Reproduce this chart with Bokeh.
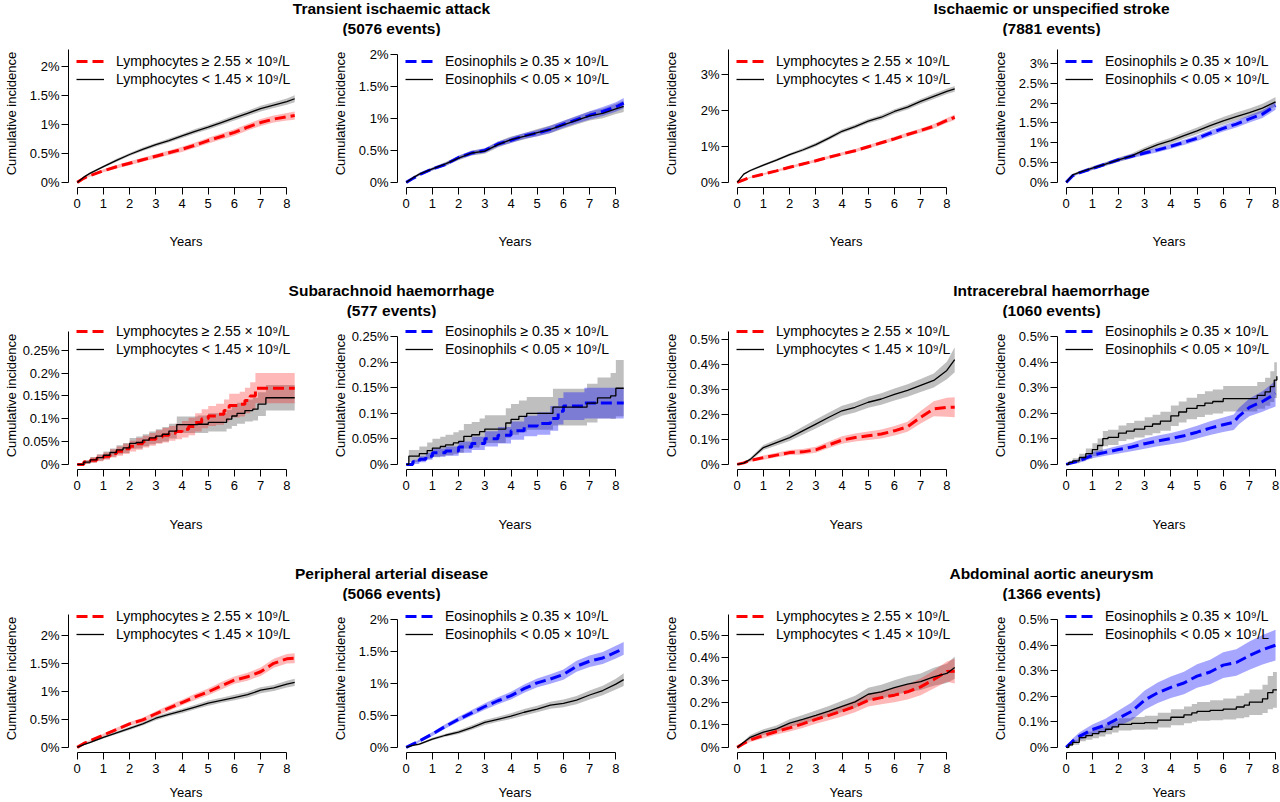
import numpy as np
from bokeh.plotting import figure
from bokeh.models import Range1d, FixedTicker, CustomJSTickFormatter, Legend, LegendItem
from bokeh.layouts import column, row
from bokeh.embed import file_html
from bokeh.resources import INLINE
from bokeh.core.properties import value

FONT = "Liberation Sans"

# ------------------------------------------------------------------ data
T_SMOOTH = [0, 0.25, 0.5, 1, 1.5, 2, 2.5, 3, 3.5, 4, 4.5, 5, 5.5, 6, 6.5, 7, 7.5, 8, 8.3]
T_SMOOTH_END8 = [0, 0.25, 0.5, 1, 1.5, 2, 2.5, 3, 3.5, 4, 4.5, 5, 5.5, 6, 6.5, 7, 7.5, 8]
YEAR_TICKS = [0, 1, 2, 3, 4, 5, 6, 7, 8]

outcome_titles = ["Transient ischaemic attack", "Ischaemic or unspecified stroke",
                  "Subarachnoid haemorrhage", "Intracerebral haemorrhage",
                  "Peripheral arterial disease", "Abdominal aortic aneurysm"]
outcome_events = ["(5076 events)", "(7881 events)", "(577 events)", "(1060 events)",
                  "(5066 events)", "(1366 events)"]

LYM_HIGH_LABEL = "Lymphocytes \u2265 2.55 \u00d7 10\u2079/L"
LYM_LOW_LABEL = "Lymphocytes < 1.45 \u00d7 10\u2079/L"
EOS_HIGH_LABEL = "Eosinophils \u2265 0.35 \u00d7 10\u2079/L"
EOS_LOW_LABEL = "Eosinophils < 0.05 \u00d7 10\u2079/L"

# Transient ischaemic attack
tia_lym_hi_est = [0, 0.07, 0.12, 0.20, 0.27, 0.33, 0.39, 0.45, 0.51, 0.57, 0.64, 0.72, 0.79, 0.86, 0.95, 1.03, 1.09, 1.13, 1.15]
tia_lym_hi_ci = [0, 0.012, 0.02, 0.025, 0.03, 0.035, 0.035, 0.04, 0.04, 0.045, 0.045, 0.05, 0.05, 0.055, 0.055, 0.06, 0.06, 0.065, 0.07]
tia_lym_lo_est = [0, 0.09, 0.16, 0.27, 0.38, 0.48, 0.57, 0.65, 0.72, 0.80, 0.88, 0.95, 1.03, 1.11, 1.19, 1.27, 1.33, 1.39, 1.44]
tia_lym_lo_ci = [0, 0.01, 0.015, 0.02, 0.025, 0.025, 0.03, 0.03, 0.035, 0.035, 0.04, 0.04, 0.04, 0.045, 0.045, 0.05, 0.05, 0.055, 0.06]
tia_eos_hi_est = [0, 0.06, 0.12, 0.21, 0.28, 0.39, 0.46, 0.50, 0.60, 0.66, 0.73, 0.77, 0.83, 0.91, 0.98, 1.05, 1.11, 1.18, 1.24]
tia_eos_hi_ci = [0, 0.012, 0.018, 0.022, 0.027, 0.03, 0.035, 0.035, 0.04, 0.045, 0.045, 0.05, 0.055, 0.055, 0.06, 0.065, 0.07, 0.075, 0.08]
tia_eos_lo_est = [0, 0.07, 0.13, 0.21, 0.29, 0.38, 0.46, 0.49, 0.59, 0.67, 0.72, 0.78, 0.83, 0.90, 0.97, 1.04, 1.08, 1.15, 1.19]
tia_eos_lo_ci = [0, 0.015, 0.02, 0.025, 0.03, 0.035, 0.04, 0.04, 0.045, 0.05, 0.05, 0.055, 0.06, 0.06, 0.065, 0.07, 0.075, 0.08, 0.09]

# Ischaemic or unspecified stroke
isch_lym_hi_est = [0, 0.07, 0.14, 0.23, 0.32, 0.42, 0.51, 0.60, 0.70, 0.79, 0.88, 0.99, 1.10, 1.21, 1.33, 1.44, 1.56, 1.72, 1.81]
isch_lym_hi_ci = [0, 0.015, 0.02, 0.025, 0.03, 0.035, 0.035, 0.04, 0.04, 0.045, 0.045, 0.05, 0.05, 0.055, 0.055, 0.06, 0.065, 0.07, 0.075]
isch_lym_lo_est = [0, 0.23, 0.33, 0.48, 0.62, 0.77, 0.90, 1.05, 1.23, 1.42, 1.55, 1.70, 1.81, 1.97, 2.09, 2.25, 2.39, 2.53, 2.60]
isch_lym_lo_ci = [0, 0.02, 0.025, 0.03, 0.035, 0.04, 0.045, 0.05, 0.05, 0.055, 0.055, 0.06, 0.06, 0.065, 0.065, 0.07, 0.07, 0.075, 0.08]
isch_eos_hi_est = [0, 0.17, 0.24, 0.35, 0.46, 0.57, 0.66, 0.74, 0.82, 0.91, 1.01, 1.11, 1.24, 1.36, 1.47, 1.60, 1.72, 1.93]
isch_eos_hi_ci = [0, 0.025, 0.03, 0.035, 0.04, 0.045, 0.05, 0.055, 0.06, 0.06, 0.065, 0.07, 0.075, 0.08, 0.085, 0.09, 0.095, 0.1]
isch_eos_lo_est = [0, 0.19, 0.25, 0.36, 0.46, 0.57, 0.67, 0.82, 0.95, 1.05, 1.18, 1.30, 1.43, 1.55, 1.66, 1.76, 1.87, 2.03]
isch_eos_lo_ci = [0, 0.03, 0.035, 0.045, 0.05, 0.055, 0.06, 0.065, 0.07, 0.075, 0.08, 0.085, 0.09, 0.095, 0.1, 0.105, 0.11, 0.12]

# Subarachnoid haemorrhage (step curves)
sah_lym_hi_t = [0, 0.25, 0.5, 0.75, 1.0, 1.25, 1.5, 1.75, 2.0, 2.25, 2.5, 2.75, 3.0, 3.25, 3.5, 3.75, 4.0, 4.25, 4.5, 4.75, 5.0, 5.3, 5.6, 5.8, 6.2, 6.4, 6.6, 6.8, 8.3]
sah_lym_hi_est = [0, 0.005, 0.009, 0.014, 0.018, 0.024, 0.029, 0.034, 0.040, 0.045, 0.050, 0.055, 0.060, 0.064, 0.068, 0.072, 0.077, 0.083, 0.092, 0.100, 0.106, 0.110, 0.118, 0.129, 0.132, 0.140, 0.150, 0.167, 0.167]
sah_lym_hi_ci = [0, 0.004, 0.006, 0.007, 0.008, 0.009, 0.010, 0.011, 0.012, 0.013, 0.013, 0.014, 0.015, 0.016, 0.016, 0.017, 0.018, 0.019, 0.020, 0.021, 0.022, 0.023, 0.024, 0.026, 0.027, 0.028, 0.030, 0.033, 0.033]
sah_lym_lo_t = [0, 0.25, 0.5, 0.75, 1.0, 1.25, 1.5, 1.75, 2.0, 2.25, 2.5, 2.75, 3.0, 3.25, 3.5, 3.8, 4.6, 5.0, 5.7, 5.9, 6.1, 6.4, 6.7, 6.9, 7.2, 8.3]
sah_lym_lo_est = [0, 0.005, 0.010, 0.015, 0.020, 0.026, 0.032, 0.036, 0.046, 0.048, 0.053, 0.058, 0.062, 0.066, 0.073, 0.087, 0.088, 0.092, 0.099, 0.106, 0.112, 0.118, 0.121, 0.132, 0.146, 0.146]
sah_lym_lo_ci = [0, 0.004, 0.006, 0.007, 0.008, 0.009, 0.010, 0.011, 0.012, 0.013, 0.013, 0.014, 0.015, 0.016, 0.016, 0.018, 0.019, 0.020, 0.021, 0.022, 0.023, 0.024, 0.025, 0.026, 0.028, 0.028]
sah_eos_hi_t = [0, 0.25, 0.5, 0.75, 1.0, 1.5, 2.0, 2.5, 3.0, 3.5, 4.0, 4.5, 5.0, 5.5, 5.8, 6.0, 6.8, 8.3]
sah_eos_hi_est = [0, 0.005, 0.010, 0.016, 0.023, 0.026, 0.034, 0.041, 0.050, 0.057, 0.066, 0.075, 0.080, 0.090, 0.104, 0.114, 0.120, 0.120]
sah_eos_hi_ci = [0, 0.004, 0.006, 0.007, 0.008, 0.009, 0.011, 0.013, 0.015, 0.016, 0.018, 0.020, 0.022, 0.024, 0.026, 0.027, 0.030, 0.032]
sah_eos_lo_t = [0, 0.1, 0.5, 0.8, 1.0, 1.3, 1.5, 1.8, 2.0, 2.2, 2.5, 2.8, 3.0, 3.8, 4.0, 4.3, 4.6, 5.6, 6.9, 7.3, 7.8, 8.0, 8.3]
sah_eos_lo_est = [0, 0.016, 0.021, 0.027, 0.032, 0.035, 0.038, 0.042, 0.045, 0.055, 0.058, 0.064, 0.069, 0.081, 0.088, 0.094, 0.100, 0.112, 0.120, 0.130, 0.134, 0.149, 0.149]
sah_eos_lo_ci = [0, 0.012, 0.014, 0.016, 0.018, 0.019, 0.020, 0.021, 0.022, 0.024, 0.025, 0.026, 0.027, 0.029, 0.030, 0.031, 0.032, 0.036, 0.038, 0.040, 0.045, 0.055, 0.055]

# Intracerebral haemorrhage
ich_lym_hi_est = [0, 0.006, 0.016, 0.027, 0.037, 0.047, 0.050, 0.058, 0.078, 0.097, 0.107, 0.114, 0.121, 0.134, 0.150, 0.188, 0.222, 0.228, 0.228]
ich_lym_hi_ci = [0, 0.003, 0.005, 0.008, 0.009, 0.010, 0.011, 0.012, 0.013, 0.015, 0.016, 0.017, 0.018, 0.019, 0.020, 0.025, 0.030, 0.038, 0.040]
ich_lym_lo_est = [0, 0.005, 0.020, 0.067, 0.087, 0.107, 0.134, 0.161, 0.188, 0.214, 0.228, 0.248, 0.261, 0.279, 0.295, 0.315, 0.335, 0.375, 0.418]
ich_lym_lo_ci = [0, 0.003, 0.006, 0.010, 0.012, 0.014, 0.016, 0.018, 0.019, 0.020, 0.021, 0.022, 0.023, 0.024, 0.025, 0.026, 0.028, 0.035, 0.050]
ich_eos_hi_t = [0, 0.5, 1, 1.5, 2, 2.5, 3, 3.5, 4, 4.5, 5, 5.5, 6, 6.4, 6.6, 7, 7.5, 8]
ich_eos_hi_est = [0, 0.014, 0.036, 0.047, 0.058, 0.068, 0.081, 0.092, 0.101, 0.112, 0.126, 0.142, 0.155, 0.165, 0.189, 0.223, 0.246, 0.277]
ich_eos_hi_ci = [0, 0.008, 0.012, 0.013, 0.015, 0.017, 0.020, 0.021, 0.022, 0.024, 0.025, 0.027, 0.028, 0.030, 0.032, 0.035, 0.040, 0.050]
ich_eos_lo_t = [0, 0.1, 0.25, 0.5, 0.75, 1.0, 1.2, 1.4, 1.6, 2.0, 2.3, 2.6, 3.0, 3.3, 3.6, 4.0, 4.3, 4.6, 5.0, 5.3, 5.6, 6.0, 7.3, 7.6, 7.8, 7.95, 8.05]
ich_eos_lo_est = [0, 0.008, 0.014, 0.027, 0.042, 0.058, 0.074, 0.101, 0.106, 0.122, 0.130, 0.138, 0.149, 0.158, 0.169, 0.190, 0.205, 0.219, 0.230, 0.240, 0.246, 0.257, 0.270, 0.284, 0.304, 0.330, 0.345]
ich_eos_lo_ci = [0, 0.006, 0.010, 0.015, 0.020, 0.025, 0.027, 0.030, 0.030, 0.030, 0.032, 0.033, 0.035, 0.036, 0.037, 0.040, 0.041, 0.042, 0.045, 0.046, 0.047, 0.050, 0.052, 0.055, 0.060, 0.070, 0.080]

# Peripheral arterial disease
pad_lym_hi_est = [0, 0.07, 0.12, 0.22, 0.32, 0.42, 0.49, 0.60, 0.70, 0.80, 0.90, 0.99, 1.10, 1.20, 1.26, 1.35, 1.50, 1.58, 1.59]
pad_lym_hi_ci = [0, 0.012, 0.018, 0.025, 0.03, 0.035, 0.04, 0.045, 0.05, 0.05, 0.055, 0.06, 0.065, 0.065, 0.07, 0.075, 0.08, 0.085, 0.09]
pad_lym_lo_est = [0, 0.05, 0.09, 0.18, 0.26, 0.34, 0.42, 0.52, 0.59, 0.65, 0.72, 0.79, 0.84, 0.89, 0.94, 1.02, 1.06, 1.13, 1.16]
pad_lym_lo_ci = [0, 0.01, 0.015, 0.02, 0.025, 0.03, 0.03, 0.035, 0.035, 0.04, 0.04, 0.045, 0.045, 0.05, 0.05, 0.055, 0.055, 0.06, 0.065]
pad_eos_hi_est = [0, 0.05, 0.10, 0.21, 0.33, 0.44, 0.54, 0.64, 0.73, 0.81, 0.92, 1.01, 1.07, 1.14, 1.27, 1.35, 1.40, 1.49, 1.55]
pad_eos_hi_ci = [0, 0.012, 0.02, 0.03, 0.035, 0.04, 0.045, 0.05, 0.055, 0.06, 0.065, 0.07, 0.075, 0.08, 0.085, 0.09, 0.095, 0.1, 0.1]
pad_eos_lo_est = [0, 0.03, 0.05, 0.13, 0.19, 0.24, 0.31, 0.39, 0.44, 0.49, 0.55, 0.60, 0.66, 0.69, 0.74, 0.82, 0.89, 0.99, 1.06]
pad_eos_lo_ci = [0, 0.01, 0.015, 0.02, 0.025, 0.03, 0.035, 0.04, 0.04, 0.045, 0.05, 0.05, 0.055, 0.06, 0.065, 0.07, 0.075, 0.085, 0.1]

# Abdominal aortic aneurysm
aaa_lym_hi_est = [0, 0.018, 0.033, 0.053, 0.071, 0.087, 0.105, 0.125, 0.143, 0.162, 0.183, 0.210, 0.222, 0.233, 0.248, 0.270, 0.303, 0.338, 0.340]
aaa_lym_hi_ci = [0, 0.006, 0.009, 0.012, 0.014, 0.016, 0.018, 0.020, 0.022, 0.024, 0.026, 0.028, 0.030, 0.032, 0.034, 0.037, 0.040, 0.045, 0.055]
aaa_lym_lo_est = [0, 0.023, 0.045, 0.068, 0.083, 0.108, 0.125, 0.143, 0.162, 0.183, 0.203, 0.237, 0.248, 0.267, 0.282, 0.293, 0.315, 0.330, 0.356]
aaa_lym_lo_ci = [0, 0.006, 0.010, 0.013, 0.015, 0.017, 0.019, 0.021, 0.023, 0.025, 0.027, 0.029, 0.031, 0.033, 0.035, 0.037, 0.040, 0.043, 0.050]
aaa_eos_hi_est = [0, 0.025, 0.043, 0.07, 0.087, 0.114, 0.141, 0.185, 0.214, 0.235, 0.252, 0.279, 0.295, 0.322, 0.332, 0.359, 0.382, 0.40]
aaa_eos_hi_ci = [0, 0.01, 0.015, 0.02, 0.025, 0.03, 0.035, 0.038, 0.04, 0.042, 0.044, 0.046, 0.048, 0.05, 0.052, 0.055, 0.058, 0.06]
aaa_eos_lo_t = [0, 0.1, 0.25, 0.5, 0.75, 1.0, 1.25, 1.5, 1.75, 2.0, 2.5, 3.0, 3.5, 4.0, 4.5, 4.8, 5.0, 5.5, 6.0, 6.5, 6.8, 7.0, 7.5, 7.7, 7.9, 8.05]
aaa_eos_lo_est = [0, 0.010, 0.020, 0.038, 0.046, 0.054, 0.062, 0.071, 0.080, 0.090, 0.094, 0.097, 0.107, 0.118, 0.127, 0.135, 0.141, 0.145, 0.150, 0.158, 0.165, 0.177, 0.190, 0.214, 0.225, 0.225]
aaa_eos_lo_ci = [0, 0.006, 0.010, 0.014, 0.016, 0.018, 0.019, 0.020, 0.022, 0.024, 0.025, 0.027, 0.029, 0.031, 0.033, 0.035, 0.037, 0.039, 0.041, 0.044, 0.047, 0.050, 0.055, 0.065, 0.070, 0.070]

# y-axis upper limits (in %) and tick values of each panel, row by row
panel_ylim = [2.2, 2.0, 3.55, 3.22,
              0.28, 0.25, 0.51, 0.50,
              2.28, 2.0, 0.57, 0.50]
ticks_pct_2 = [0, 0.5, 1, 1.5, 2]
ticks_pct_3 = [0, 1, 2, 3]
ticks_pct_3h = [0, 0.5, 1, 1.5, 2, 2.5, 3]
ticks_pct_025 = [0, 0.05, 0.1, 0.15, 0.2, 0.25]
ticks_pct_05 = [0, 0.1, 0.2, 0.3, 0.4, 0.5]
panel_yticks = [ticks_pct_2, ticks_pct_2, ticks_pct_3, ticks_pct_3h,
                ticks_pct_025, ticks_pct_025, ticks_pct_05, ticks_pct_05,
                ticks_pct_2, ticks_pct_2, ticks_pct_05, ticks_pct_05]
axis_to_top = [True, False, True, True,
               True, False, True, False,
               True, False, True, False]

# ------------------------------------------------------------------ style / geometry
RED, BLUE, BLACK = "#FF0000", "#0000FF", "#000000"
LAYOUT_W = 1280
STRIP_H = 36
COL_W = [329, 331, 329, LAYOUT_W - 329 - 331 - 329]
BORDER_L = 62
PX_PER_YEAR = 26.875
X_START = -0.332
FRAME_W = [241, 241, 241, COL_W[3] - BORDER_L]
REGION_H = 138          # height of R plot region (data range + 4% each side)
HEADROOM = 10
FRAME_H = REGION_H + HEADROOM
BORDER_T = 3
PANEL_H = [246, 247, 201]
LEGEND_TOP = [13, 1, 3]
XLABEL_STANDOFF = [23, 24, 9]

CHAR_W = {".": 278, "%": 889}


def tick_text(v):
    return ("%g" % v) + "%"


def text_w(s, size=13):
    return sum(CHAR_W.get(c, 556) for c in s) * size / 1000.0


def steps(t, v):
    t = np.asarray(t, float)
    v = np.asarray(v, float)
    return np.repeat(t, 2)[1:], np.repeat(v, 2)[:-1]


def series(t, est, ci, step):
    t = np.asarray(t, float)
    est = np.asarray(est, float)
    ci = np.asarray(ci, float)
    lo = np.clip(est - ci, 0, None)
    hi = est + ci
    if step:
        xs, ys = steps(t, est)
        _, ylo = steps(t, lo)
        _, yhi = steps(t, hi)
        return xs, ys, ylo, yhi
    return t, est, lo, hi


def make_strip(k):
    s = figure(width=LAYOUT_W, height=STRIP_H, x_range=Range1d(0, LAYOUT_W),
               y_range=Range1d(0, STRIP_H), x_axis_type=None, y_axis_type=None,
               output_backend="svg", toolbar_location=None, min_border=0,
               outline_line_color=None, title=None)
    s.xgrid.visible = False
    s.ygrid.visible = False
    centers = [BORDER_L + COL_W[0], BORDER_L + COL_W[0] + COL_W[1] + COL_W[2]]
    i1, i2 = 2 * k, 2 * k + 1
    s.text(x=centers + centers, y=[STRIP_H - 8, STRIP_H - 8, STRIP_H - 28, STRIP_H - 28],
           text=[outcome_titles[i1], outcome_titles[i2], outcome_events[i1], outcome_events[i2]],
           text_font=value(FONT), text_font_size=value("15.5px"), text_font_style=value("bold"),
           text_align="center", text_baseline="middle", text_color=BLACK)
    return s


def make_panel(idx, hi, lo, kind):
    rowi, col = divmod(idx, 4)
    Y = panel_ylim[idx]
    y_start = -0.04 * Y
    y_end = y_start + FRAME_H * 1.08 * Y / REGION_H
    x_end = X_START + FRAME_W[col] / PX_PER_YEAR
    ph = PANEL_H[rowi]
    p = figure(width=COL_W[col], height=ph,
               x_range=Range1d(X_START, x_end), y_range=Range1d(y_start, y_end),
               output_backend="svg", toolbar_location=None, title=None,
               min_border_left=BORDER_L, min_border_right=COL_W[col] - BORDER_L - FRAME_W[col],
               min_border_top=BORDER_T, min_border_bottom=ph - BORDER_T - FRAME_H,
               outline_line_color=None)
    p.xgrid.visible = False
    p.ygrid.visible = False

    col_hi = RED if kind == "lym" else BLUE
    band_alpha = 0.28 if kind == "lym" else 0.35
    xs_l, ys_l, lo_l, hi_l = lo
    xs_h, ys_h, lo_h, hi_h = hi
    p.varea(x=xs_l, y1=lo_l, y2=hi_l, fill_color=BLACK, fill_alpha=0.25)
    p.varea(x=xs_h, y1=lo_h, y2=hi_h, fill_color=col_hi, fill_alpha=band_alpha)
    r_hi = p.line(xs_h, ys_h, line_color=col_hi, line_width=3, line_dash="11 5")
    r_lo = p.line(xs_l, ys_l, line_color=BLACK, line_width=1.3)

    # axes
    yt = panel_yticks[idx]
    p.xaxis.ticker = FixedTicker(ticks=YEAR_TICKS, minor_ticks=[])
    p.yaxis.ticker = FixedTicker(ticks=yt, minor_ticks=[])
    p.yaxis.formatter = CustomJSTickFormatter(
        code="return (Math.round(tick*10000)/10000).toString() + '%';")
    p.xaxis.bounds = (0, 8)
    p.yaxis.bounds = (0, 1.04 * Y if axis_to_top[idx] else yt[-1])
    for ax in (p.xaxis[0], p.yaxis[0]):
        ax.axis_line_color = BLACK
        ax.axis_line_width = 1
        ax.major_tick_line_color = BLACK
        ax.major_tick_in = 0
        ax.major_tick_out = 7
        ax.minor_tick_line_color = None
        ax.major_label_text_font = FONT
        ax.major_label_text_font_size = "13px"
        ax.major_label_text_color = BLACK
        ax.axis_label_text_font = FONT
        ax.axis_label_text_font_size = "13px"
        ax.axis_label_text_font_style = "normal"
        ax.axis_label_text_color = BLACK
    p.xaxis.major_label_standoff = 4
    p.yaxis.major_label_standoff = 2
    p.xaxis.axis_label = "Years"
    p.yaxis.axis_label = "Cumulative incidence"
    p.xaxis.axis_label_standoff = XLABEL_STANDOFF[rowi]
    maxw = max(text_w(tick_text(v)) for v in yt)
    p.yaxis.axis_label_standoff = int(max(0, round(54 - 7.5 - 7 - 2 - maxw)))

    labels = (LYM_HIGH_LABEL, LYM_LOW_LABEL) if kind == "lym" else (EOS_HIGH_LABEL, EOS_LOW_LABEL)
    legend = Legend(items=[LegendItem(label=value(labels[0]), renderers=[r_hi]),
                           LegendItem(label=value(labels[1]), renderers=[r_lo])],
                    location=(round(-X_START * PX_PER_YEAR) - 1, FRAME_H - LEGEND_TOP[rowi] - 36),
                    orientation="vertical", glyph_width=28, glyph_height=18,
                    label_height=18, label_standoff=12, spacing=0, padding=0, margin=0,
                    border_line_color=None, background_fill_alpha=0,
                    label_text_font=FONT, label_text_font_size="14px",
                    label_text_color=BLACK)
    p.add_layout(legend)
    return p


panel_series = [
    (series(T_SMOOTH, tia_lym_hi_est, tia_lym_hi_ci, False), series(T_SMOOTH, tia_lym_lo_est, tia_lym_lo_ci, False), "lym"),
    (series(T_SMOOTH, tia_eos_hi_est, tia_eos_hi_ci, False), series(T_SMOOTH, tia_eos_lo_est, tia_eos_lo_ci, False), "eos"),
    (series(T_SMOOTH, isch_lym_hi_est, isch_lym_hi_ci, False), series(T_SMOOTH, isch_lym_lo_est, isch_lym_lo_ci, False), "lym"),
    (series(T_SMOOTH_END8, isch_eos_hi_est, isch_eos_hi_ci, False), series(T_SMOOTH_END8, isch_eos_lo_est, isch_eos_lo_ci, False), "eos"),
    (series(sah_lym_hi_t, sah_lym_hi_est, sah_lym_hi_ci, True), series(sah_lym_lo_t, sah_lym_lo_est, sah_lym_lo_ci, True), "lym"),
    (series(sah_eos_hi_t, sah_eos_hi_est, sah_eos_hi_ci, True), series(sah_eos_lo_t, sah_eos_lo_est, sah_eos_lo_ci, True), "eos"),
    (series(T_SMOOTH, ich_lym_hi_est, ich_lym_hi_ci, False), series(T_SMOOTH, ich_lym_lo_est, ich_lym_lo_ci, False), "lym"),
    (series(ich_eos_hi_t, ich_eos_hi_est, ich_eos_hi_ci, False), series(ich_eos_lo_t, ich_eos_lo_est, ich_eos_lo_ci, True), "eos"),
    (series(T_SMOOTH, pad_lym_hi_est, pad_lym_hi_ci, False), series(T_SMOOTH, pad_lym_lo_est, pad_lym_lo_ci, False), "lym"),
    (series(T_SMOOTH, pad_eos_hi_est, pad_eos_hi_ci, False), series(T_SMOOTH, pad_eos_lo_est, pad_eos_lo_ci, False), "eos"),
    (series(T_SMOOTH, aaa_lym_hi_est, aaa_lym_hi_ci, False), series(T_SMOOTH, aaa_lym_lo_est, aaa_lym_lo_ci, False), "lym"),
    (series(T_SMOOTH_END8, aaa_eos_hi_est, aaa_eos_hi_ci, False), series(aaa_eos_lo_t, aaa_eos_lo_est, aaa_eos_lo_ci, True), "eos"),
]

children = []
for k in range(3):
    children.append(make_strip(k))
    panels = [make_panel(4 * k + c, *panel_series[4 * k + c]) for c in range(4)]
    children.append(row(*panels, spacing=0))

layout = column(*children, spacing=0)

open("out.html", "w").write(file_html(layout, INLINE))
